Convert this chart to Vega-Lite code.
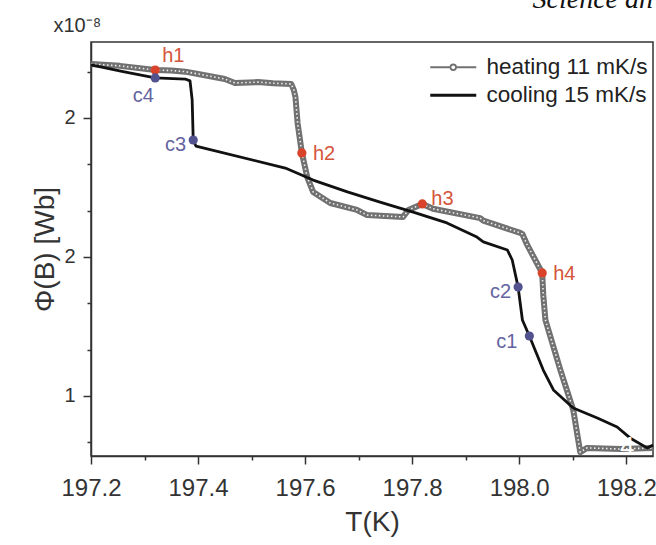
{
  "$schema": "https://vega.github.io/schema/vega-lite/v6.json",
  "width": 562,
  "height": 414,
  "autosize": {"type": "none"},
  "padding": {"left": 91, "top": 42, "right": 3, "bottom": 89},
  "background": "white",
  "config": {
    "font": "Liberation Sans",
    "view": {"stroke": "#333", "strokeWidth": 1.5},
    "axis": {"domainColor": "#333", "domainWidth": 1.5, "tickColor": "#333", "tickWidth": 1.5, "grid": false, "labelColor": "#333", "titleColor": "#333", "titleFontWeight": "normal"}
  },
  "title": {"text": "Science an", "anchor": "end", "frame": "group", "font": "Liberation Serif", "fontStyle": "italic", "fontSize": 28, "fontWeight": "normal", "color": "#111", "baseline": "alphabetic", "offset": -12, "dy": 9},
  "resolve": {"axis": {"x": "independent"}},
  "datasets": {
    "curves": [
      {"series": "heating 11 mK/s", "T": 197.200, "v": 2.433},
      {"series": "heating 11 mK/s", "T": 197.254, "v": 2.425},
      {"series": "heating 11 mK/s", "T": 197.320, "v": 2.407},
      {"series": "heating 11 mK/s", "T": 197.350, "v": 2.405},
      {"series": "heating 11 mK/s", "T": 197.376, "v": 2.400},
      {"series": "heating 11 mK/s", "T": 197.400, "v": 2.390},
      {"series": "heating 11 mK/s", "T": 197.450, "v": 2.368},
      {"series": "heating 11 mK/s", "T": 197.469, "v": 2.351},
      {"series": "heating 11 mK/s", "T": 197.512, "v": 2.355},
      {"series": "heating 11 mK/s", "T": 197.540, "v": 2.350},
      {"series": "heating 11 mK/s", "T": 197.574, "v": 2.347},
      {"series": "heating 11 mK/s", "T": 197.579, "v": 2.320},
      {"series": "heating 11 mK/s", "T": 197.582, "v": 2.290},
      {"series": "heating 11 mK/s", "T": 197.586, "v": 2.178},
      {"series": "heating 11 mK/s", "T": 197.594, "v": 2.049},
      {"series": "heating 11 mK/s", "T": 197.604, "v": 1.945},
      {"series": "heating 11 mK/s", "T": 197.615, "v": 1.881},
      {"series": "heating 11 mK/s", "T": 197.647, "v": 1.833},
      {"series": "heating 11 mK/s", "T": 197.697, "v": 1.803},
      {"series": "heating 11 mK/s", "T": 197.716, "v": 1.781},
      {"series": "heating 11 mK/s", "T": 197.783, "v": 1.773},
      {"series": "heating 11 mK/s", "T": 197.793, "v": 1.803},
      {"series": "heating 11 mK/s", "T": 197.819, "v": 1.829},
      {"series": "heating 11 mK/s", "T": 197.839, "v": 1.808},
      {"series": "heating 11 mK/s", "T": 197.927, "v": 1.768},
      {"series": "heating 11 mK/s", "T": 197.933, "v": 1.757},
      {"series": "heating 11 mK/s", "T": 198.002, "v": 1.704},
      {"series": "heating 11 mK/s", "T": 198.006, "v": 1.699},
      {"series": "heating 11 mK/s", "T": 198.015, "v": 1.652},
      {"series": "heating 11 mK/s", "T": 198.043, "v": 1.531},
      {"series": "heating 11 mK/s", "T": 198.045, "v": 1.436},
      {"series": "heating 11 mK/s", "T": 198.049, "v": 1.328},
      {"series": "heating 11 mK/s", "T": 198.077, "v": 1.112},
      {"series": "heating 11 mK/s", "T": 198.101, "v": 0.940},
      {"series": "heating 11 mK/s", "T": 198.114, "v": 0.758},
      {"series": "heating 11 mK/s", "T": 198.127, "v": 0.776},
      {"series": "heating 11 mK/s", "T": 198.189, "v": 0.771},
      {"series": "heating 11 mK/s", "T": 198.250, "v": 0.776},
      {"series": "cooling 15 mK/s", "T": 197.200, "v": 2.429},
      {"series": "cooling 15 mK/s", "T": 197.260, "v": 2.400},
      {"series": "cooling 15 mK/s", "T": 197.320, "v": 2.373},
      {"series": "cooling 15 mK/s", "T": 197.376, "v": 2.368},
      {"series": "cooling 15 mK/s", "T": 197.385, "v": 2.360},
      {"series": "cooling 15 mK/s", "T": 197.389, "v": 2.278},
      {"series": "cooling 15 mK/s", "T": 197.391, "v": 2.105},
      {"series": "cooling 15 mK/s", "T": 197.396, "v": 2.079},
      {"series": "cooling 15 mK/s", "T": 197.563, "v": 1.984},
      {"series": "cooling 15 mK/s", "T": 197.615, "v": 1.932},
      {"series": "cooling 15 mK/s", "T": 197.679, "v": 1.881},
      {"series": "cooling 15 mK/s", "T": 197.740, "v": 1.837},
      {"series": "cooling 15 mK/s", "T": 197.802, "v": 1.794},
      {"series": "cooling 15 mK/s", "T": 197.865, "v": 1.747},
      {"series": "cooling 15 mK/s", "T": 197.921, "v": 1.686},
      {"series": "cooling 15 mK/s", "T": 197.933, "v": 1.665},
      {"series": "cooling 15 mK/s", "T": 197.978, "v": 1.630},
      {"series": "cooling 15 mK/s", "T": 197.987, "v": 1.587},
      {"series": "cooling 15 mK/s", "T": 197.998, "v": 1.470},
      {"series": "cooling 15 mK/s", "T": 198.006, "v": 1.328},
      {"series": "cooling 15 mK/s", "T": 198.019, "v": 1.259},
      {"series": "cooling 15 mK/s", "T": 198.045, "v": 1.112},
      {"series": "cooling 15 mK/s", "T": 198.064, "v": 1.026},
      {"series": "cooling 15 mK/s", "T": 198.101, "v": 0.948},
      {"series": "cooling 15 mK/s", "T": 198.146, "v": 0.905},
      {"series": "cooling 15 mK/s", "T": 198.183, "v": 0.866},
      {"series": "cooling 15 mK/s", "T": 198.207, "v": 0.819},
      {"series": "cooling 15 mK/s", "T": 198.239, "v": 0.776},
      {"series": "cooling 15 mK/s", "T": 198.250, "v": 0.788}
    ],
    "marks": [
      {"label": "h1", "grp": "h", "T": 197.320, "v": 2.407},
      {"label": "h2", "grp": "h", "T": 197.594, "v": 2.049},
      {"label": "h3", "grp": "h", "T": 197.819, "v": 1.829},
      {"label": "h4", "grp": "h", "T": 198.043, "v": 1.531},
      {"label": "c4", "grp": "c", "T": 197.320, "v": 2.373},
      {"label": "c3", "grp": "c", "T": 197.391, "v": 2.105},
      {"label": "c2", "grp": "c", "T": 197.998, "v": 1.470},
      {"label": "c1", "grp": "c", "T": 198.019, "v": 1.259}
    ],
    "panel": [
      {"label": "4", "T": 198.202, "v": 0.745}
    ]
  },
  "layer": [
    {
      "data": {"name": "curves"},
      "transform": [{"filter": "datum.series == 'heating 11 mK/s'"}],
      "mark": {"type": "line", "strokeWidth": 6, "strokeJoin": "round"},
      "encoding": {
        "x": {"field": "T", "type": "quantitative", "scale": {"domain": [197.2, 198.25], "nice": false, "zero": false},
          "axis": {"orient": "bottom", "values": [197.2, 197.3, 197.4, 197.5, 197.6, 197.7, 197.8, 197.9, 198.0, 198.1, 198.2],
            "labelExpr": "round(datum.value*10)%2==0 ? format(datum.value,'.1f') : ''",
            "tickSize": {"condition": {"test": "round(datum.value*10)%2==0", "value": 8}, "value": 4},
            "labelFontSize": 24, "labelPadding": 12, "labelFlush": false, "labelOverlap": false, "labelBound": false,
            "title": "T(K)", "titleFontSize": 28, "titlePadding": 8}},
        "y": {"field": "v", "type": "quantitative", "scale": {"domain": [0.741, 2.528], "nice": false, "zero": false},
          "axis": {"values": [0.8, 1.0, 1.2, 1.4, 1.6, 1.8, 2.0, 2.2, 2.4],
            "labelExpr": "(datum.value==1 || datum.value==1.6 || datum.value==2.2) ? format(datum.value,'.0f') : ''",
            "tickSize": {"condition": {"test": "datum.value==1 || datum.value==1.6 || datum.value==2.2", "value": 8}, "value": 4},
            "labelFontSize": 20, "labelPadding": 8, "labelFlush": false, "labelOverlap": false, "labelBound": false,
            "title": "Φ(B) [Wb]", "titleFontSize": 28, "titlePadding": 4}},
        "color": {"field": "series", "type": "nominal",
          "scale": {"domain": ["heating 11 mK/s", "cooling 15 mK/s"], "range": ["#717171", "#111111"]},
          "legend": {"orient": "none", "legendX": 351, "legendY": 14, "title": null, "padding": 0, "rowPadding": 5,
            "labelFontSize": 22.5, "labelColor": "#222", "labelLimit": 400, "symbolSize": 2116, "labelOffset": 22, "symbolType": "stroke",
            "encode": {"symbols": {"update": {
              "shape": {"signal": "datum.value === 'heating 11 mK/s' ? 'M-1,0H-0.12M0.12,0H1M0.12,0A0.12,0.12,0,1,1,-0.12,0A0.12,0.12,0,1,1,0.12,0' : 'M-1,0H1'"},
              "strokeWidth": {"signal": "datum.value === 'heating 11 mK/s' ? 1.8 : 3.2"},
              "fill": {"value": "white"}}}}}}
      }
    },
    {
      "data": {"name": "curves"},
      "transform": [{"filter": "datum.series == 'heating 11 mK/s'"}],
      "mark": {"type": "line", "strokeWidth": 1.6, "color": "#eeeeee", "strokeDash": [1.5, 2.5]},
      "encoding": {
        "x": {"field": "T", "type": "quantitative", "axis": null},
        "y": {"field": "v", "type": "quantitative"}
      }
    },
    {
      "data": {"name": "curves"},
      "transform": [{"filter": "datum.series == 'cooling 15 mK/s'"}],
      "mark": {"type": "line", "strokeWidth": 2.8, "strokeJoin": "round"},
      "encoding": {
        "x": {"field": "T", "type": "quantitative", "axis": null},
        "y": {"field": "v", "type": "quantitative"},
        "color": {"field": "series", "type": "nominal"}
      }
    },
    {
      "data": {"name": "marks"},
      "mark": {"type": "point", "filled": true, "size": 85, "opacity": 1},
      "encoding": {
        "x": {"field": "T", "type": "quantitative",
          "axis": {"orient": "top", "title": "x10⁻⁸", "ticks": false, "labels": false, "domain": false,
            "titleFontSize": 20, "titleFontWeight": "normal",
            "titleX": -38, "titleY": -11, "titleAlign": "left", "titleBaseline": "alphabetic", "titleColor": "#333", "titleAngle": 0}},
        "y": {"field": "v", "type": "quantitative"},
        "fill": {"field": "grp", "type": "nominal", "scale": {"domain": ["h", "c"], "range": ["#d8432a", "#52528f"]}, "legend": null}
      }
    },
    {
      "data": {"name": "marks"},
      "transform": [{"filter": "datum.label == 'h1'"}],
      "mark": {"type": "text", "align": "left", "baseline": "middle", "dx": 7, "dy": -14, "fontSize": 20, "color": "#d4553a"},
      "encoding": {"x": {"field": "T", "type": "quantitative", "axis": null}, "y": {"field": "v", "type": "quantitative"}, "text": {"field": "label"}}
    },
    {
      "data": {"name": "marks"},
      "transform": [{"filter": "datum.label == 'h2' || datum.label == 'h4'"}],
      "mark": {"type": "text", "align": "left", "baseline": "middle", "dx": 11, "dy": 1, "fontSize": 20, "color": "#d4553a"},
      "encoding": {"x": {"field": "T", "type": "quantitative", "axis": null}, "y": {"field": "v", "type": "quantitative"}, "text": {"field": "label"}}
    },
    {
      "data": {"name": "marks"},
      "transform": [{"filter": "datum.label == 'h3'"}],
      "mark": {"type": "text", "align": "left", "baseline": "middle", "dx": 9, "dy": -5, "fontSize": 20, "color": "#d4553a"},
      "encoding": {"x": {"field": "T", "type": "quantitative", "axis": null}, "y": {"field": "v", "type": "quantitative"}, "text": {"field": "label"}}
    },
    {
      "data": {"name": "marks"},
      "transform": [{"filter": "datum.label == 'c4'"}],
      "mark": {"type": "text", "align": "center", "baseline": "middle", "dx": -12, "dy": 18, "fontSize": 20, "color": "#6464a0"},
      "encoding": {"x": {"field": "T", "type": "quantitative", "axis": null}, "y": {"field": "v", "type": "quantitative"}, "text": {"field": "label"}}
    },
    {
      "data": {"name": "marks"},
      "transform": [{"filter": "datum.label == 'c3' || datum.label == 'c2'"}],
      "mark": {"type": "text", "align": "right", "baseline": "middle", "dx": -7, "dy": 5, "fontSize": 20, "color": "#6464a0"},
      "encoding": {"x": {"field": "T", "type": "quantitative", "axis": null}, "y": {"field": "v", "type": "quantitative"}, "text": {"field": "label"}}
    },
    {
      "data": {"name": "marks"},
      "transform": [{"filter": "datum.label == 'c1'"}],
      "mark": {"type": "text", "align": "right", "baseline": "middle", "dx": -12, "dy": 6, "fontSize": 20, "color": "#6464a0"},
      "encoding": {"x": {"field": "T", "type": "quantitative", "axis": null}, "y": {"field": "v", "type": "quantitative"}, "text": {"field": "label"}}
    },
    {
      "data": {"name": "panel"},
      "mark": {"type": "text", "align": "center", "baseline": "alphabetic", "fontSize": 26, "color": "white"},
      "encoding": {"x": {"field": "T", "type": "quantitative", "axis": null}, "y": {"field": "v", "type": "quantitative"}, "text": {"field": "label"}}
    }
  ]
}
